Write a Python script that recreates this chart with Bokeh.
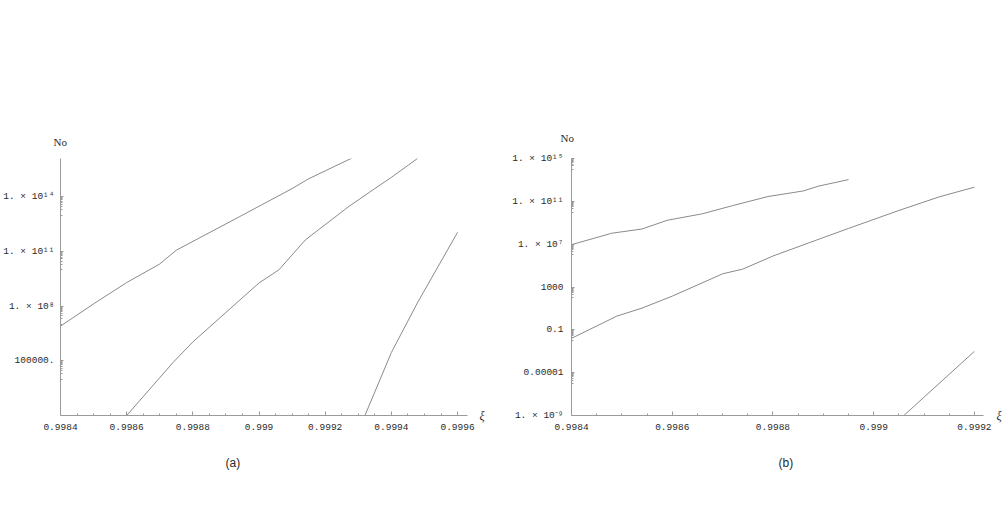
from bokeh.plotting import figure
from bokeh.models import Range1d, FixedTicker, Title, LinearAxis
from bokeh.layouts import row
from bokeh.embed import file_html
from bokeh.resources import INLINE

# ---------------- panel (a) ----------------
a_x1 = [0.9984, 0.9985, 0.9986, 0.9987, 0.99875, 0.99894, 0.9991, 0.99915, 0.99928]
a_y1 = [8.1e6, 1.35e8, 2.0e9, 2.1e10, 1.2e11, 8.1e12, 2.9e14, 1.0e15, 1.35e16]
a_x2 = [0.9986, 0.99874, 0.9988, 0.999, 0.99906, 0.99914, 0.99927, 0.99935, 0.9994, 0.99948]
a_y2 = [1.0e2, 8.1e4, 1.1e6, 1.9e9, 1.0e10, 4.4e11, 2.9e13, 2.9e14, 1.2e15, 1.35e16]
a_x3 = [0.99932, 0.9994, 0.99948, 0.9996]
a_y3 = [1.0e2, 2.9e5, 1.7e8, 1.15e12]

a_xticks = [0.9984, 0.9986, 0.9988, 0.999, 0.9992, 0.9994, 0.9996]
a_xlabels = ["0.9984", "0.9986", "0.9988", "0.999", "0.9992", "0.9994", "0.9996"]
a_yticks = [1e5, 1e8, 1e11, 1e14]
a_ylabels = ["100000.", "1. × 10⁸", "1. × 10¹¹", "1. × 10¹⁴"]

# ---------------- panel (b) ----------------
b_x1 = [0.9984, 0.99848, 0.99854, 0.99859, 0.99866, 0.99872, 0.99879, 0.99886, 0.99889, 0.99895]
b_y1 = [9.0e6, 1.05e8, 2.6e8, 1.7e9, 6.9e9, 4.0e10, 2.8e11, 9.3e11, 2.6e12, 1.07e13]
b_x2 = [0.9984, 0.99849, 0.99854, 0.9986, 0.9987, 0.99874, 0.9988, 0.99887, 0.99895, 0.99905, 0.99913, 0.9992]
b_y2 = [1.6e-2, 1.9e0, 1.07e1, 1.4e2, 1.7e4, 4.7e4, 7.8e5, 1.26e7, 2.95e8, 1.4e10, 2.6e11, 2.1e12]
b_x3 = [0.99906, 0.9992]
b_y3 = [1.0e-9, 9.8e-4]

b_xticks = [0.9984, 0.9986, 0.9988, 0.999, 0.9992]
b_xlabels = ["0.9984", "0.9986", "0.9988", "0.999", "0.9992"]
b_yticks = [1e-9, 1e-5, 1e-1, 1e3, 1e7, 1e11, 1e15]
b_ylabels = ["1. × 10⁻⁹", "0.00001", "0.1", "1000", "1. × 10⁷", "1. × 10¹¹", "1. × 10¹⁵"]

LINE = "#8a8a8a"
AXIS = "#9a9a9a"
TEXT = "#2a2a2a"
TICKFONT = "Liberation Mono"


def x_minor(ticks):
    out = []
    step = (ticks[1] - ticks[0]) / 4.0
    for t in ticks[:-1]:
        for k in (1, 2, 3):
            out.append(t + k * step)
    out.append(ticks[-1] + step)
    return out


def y_minor(ticks):
    out = []
    for t in ticks:
        base = t / 10.0
        for m in range(1, 10):
            out.append(base * m)
    return out


def style(p, xt, xl, yt, yl, standoff):
    p.outline_line_color = None
    p.xgrid.visible = False
    p.ygrid.visible = False
    p.background_fill_color = "white"
    p.border_fill_color = "white"
    xa = p.xaxis[0]
    ya = p.yaxis[0]
    xa.ticker = FixedTicker(ticks=xt, minor_ticks=x_minor(xt))
    xa.major_label_overrides = {t: s for t, s in zip(xt, xl)}
    ya.ticker = FixedTicker(ticks=yt, minor_ticks=y_minor(yt))
    ya.major_label_overrides = {t: s for t, s in zip(yt, yl)}
    for ax in (xa, ya):
        ax.axis_line_color = AXIS
        ax.axis_line_width = 1
        ax.major_tick_line_color = AXIS
        ax.minor_tick_line_color = AXIS
        ax.major_tick_out = 0
        ax.minor_tick_out = 0
        ax.major_label_text_font = TICKFONT
        ax.major_label_text_color = TEXT
        ax.major_label_text_font_size = "9.5px"
    xa.major_tick_in = 4
    xa.minor_tick_in = 2
    ya.major_tick_in = 3
    ya.minor_tick_in = 2
    xa.major_label_standoff = 8
    ya.major_label_standoff = standoff


def decorate(p, no_offset, no_standoff, cap_text, cap_offset, xi_standoff):
    # "No" above the y axis
    p.title.text = "No"
    p.title.align = "left"
    p.title.offset = no_offset
    p.title.standoff = no_standoff
    p.title.text_font = "Liberation Serif"
    p.title.text_font_style = "normal"
    p.title.text_font_size = "11px"
    p.title.text_color = TEXT
    # caption below the plot
    p.add_layout(Title(text=cap_text, align="left", offset=cap_offset, standoff=42,
                       text_font="Liberation Sans", text_font_style="normal",
                       text_font_size="12px", text_color=TEXT), "below")
    # xi at the right end of the x axis
    xi = LinearAxis(ticker=FixedTicker(ticks=[]), axis_line_color=None,
                    major_tick_line_color=None, minor_tick_line_color=None,
                    major_label_text_font_size="0px",
                    axis_label="ξ", axis_label_orientation="horizontal",
                    axis_label_align="start", axis_label_standoff=xi_standoff,
                    axis_label_text_font="Liberation Serif",
                    axis_label_text_font_style="italic",
                    axis_label_text_font_size="12px",
                    axis_label_text_color=TEXT)
    p.add_layout(xi, "right")


# panel (a)
pa = figure(width=508, height=492, x_range=Range1d(0.9984, 0.99963),
            y_range=Range1d(100, 1.3e16), y_axis_type="log",
            output_backend="svg", toolbar_location=None,
            min_border_left=59, min_border_right=41,
            min_border_top=158, min_border_bottom=76)
style(pa, a_xticks, a_xlabels, a_yticks, a_ylabels, 6)
for xs, ys in ((a_x1, a_y1), (a_x2, a_y2), (a_x3, a_y3)):
    pa.line(xs, ys, line_color=LINE, line_width=1)
decorate(pa, -7, 22, "(a)", 165, 12)

# panel (b)
pb = figure(width=500, height=492, x_range=Range1d(0.9984, 0.999218),
            y_range=Range1d(1e-9, 1e15), y_axis_type="log",
            output_backend="svg", toolbar_location=None,
            min_border_left=63, min_border_right=25,
            min_border_top=152, min_border_bottom=77)
style(pb, b_xticks, b_xlabels, b_yticks, b_ylabels, 8)
for xs, ys in ((b_x1, b_y1), (b_x2, b_y2), (b_x3, b_y3)):
    pb.line(xs, ys, line_color=LINE, line_width=1)
decorate(pb, -11, 29, "(b)", 207, 13)

layout = row(pa, pb)
open("out.html", "w").write(file_html(layout, INLINE))
